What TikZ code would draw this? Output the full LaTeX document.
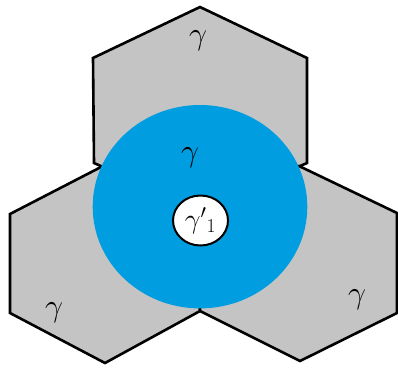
\documentclass[tikz,border=0pt]{standalone}
\usepackage{fix-cm}
\usetikzlibrary{shapes.geometric}
\definecolor{hexgray}{RGB}{196,196,196}
\definecolor{discblue}{RGB}{0,157,224}
\begin{document}
\begin{tikzpicture} [x=1pt, y=-1pt,
	hex/.style = {draw=black, line width=2.6pt, fill=hexgray},
	lab/.style = {font=\fontsize{32}{34}\selectfont, inner sep=0pt}]
	\useasboundingbox (0,0) rectangle (398,368);
	% the three cells round the middle vertex
	\coordinate (mid) at (200,210);
	\draw [hex] (200,7) -- (307,58) -- (307,163) -- (mid) -- (94,163) -- (93,58) -- cycle;
	\draw [hex] (101,167) -- (10,214) -- (10,313) -- (105,363) -- (200,311) -- (mid) -- cycle;
	\draw [hex] (299,166) -- (397,213) -- (397,313) -- (300,361) -- (200,311) -- (mid) -- cycle;
	% the disc and its core
	\fill [discblue] (200,206.7) ellipse [x radius=107.3, y radius=101.7];
	\node (core) [ellipse, draw, fill=white, line width=2pt, minimum width=55pt, minimum height=50pt, inner sep=0pt] at (200.5,220.5) {\fontsize{28}{30}\selectfont$\gamma'{}_{1}$};
	\node (gtop) [lab] at (198,41) {$\gamma$};
	\node (gdisc) [lab] at (190,158) {$\gamma$};
	\node (gleft) [lab] at (54,313) {$\gamma$};
	\node (gright) [lab] at (357,300) {$\gamma$};
\end{tikzpicture}
\end{document}
